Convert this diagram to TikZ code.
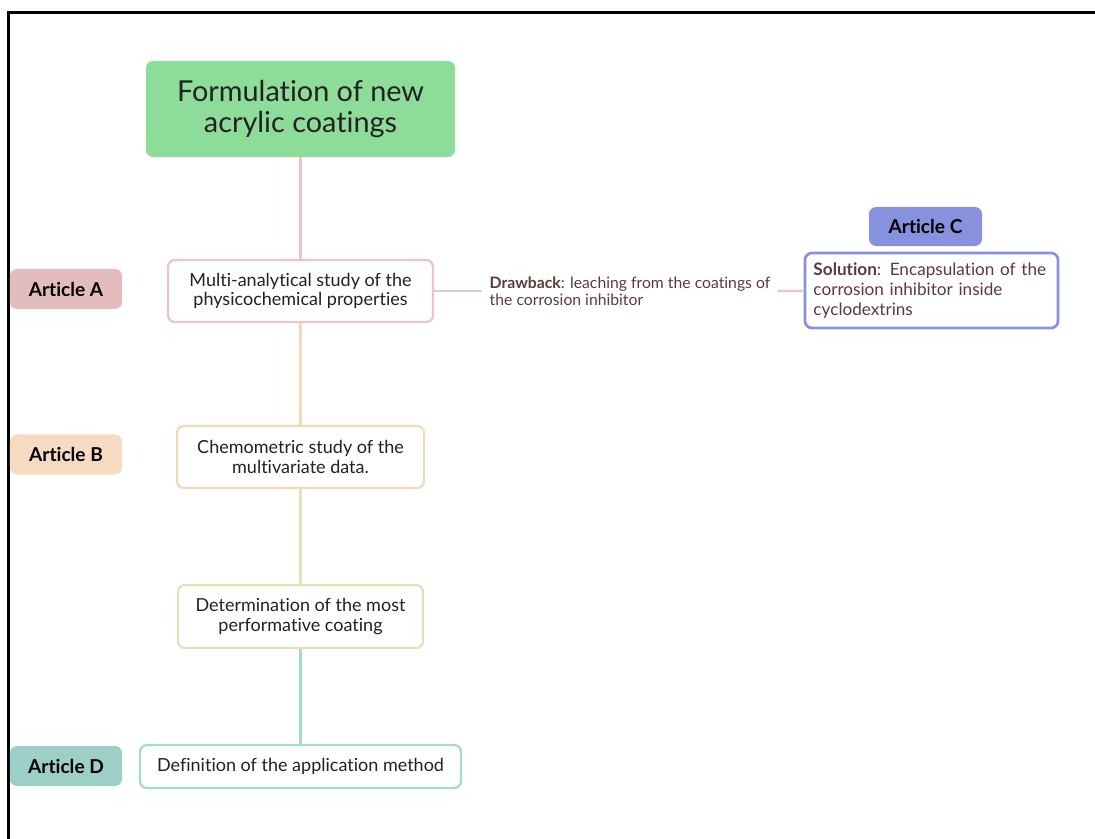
\documentclass[tikz,border=0pt]{standalone}
\usepackage{fontspec}
\setmainfont{Lato}[Ligatures=NoCommon]
\usetikzlibrary{positioning}
\definecolor{titlegreen}{HTML}{8EDC9A}
\definecolor{pinkA}{HTML}{E6C6C6}
\definecolor{pinkAfill}{HTML}{E3BDBD}
\definecolor{peachB}{HTML}{F5D8B8}
\definecolor{peachBfill}{HTML}{F6DBC1}
\definecolor{limeC}{HTML}{DDE6BA}
\definecolor{tealD}{HTML}{A6D9D0}
\definecolor{tealDfill}{HTML}{9CCFC6}
\definecolor{blueC}{HTML}{8891DD}
\definecolor{brownTxt}{HTML}{5C3B3B}
\definecolor{darkTxt}{HTML}{222222}
\tikzset{
  step box/.style={draw, line width=1.6pt, fill=white, rounded corners=5pt, align=center, font=\fontsize{12.8}{14}\selectfont, text=darkTxt, inner sep=2pt},
  art/.style={rounded corners=5pt, minimum width=2.8cm, minimum height=1.0cm, font=\fontsize{13.6}{15}\selectfont\bfseries, text=black, inner sep=0pt},
  link/.style={line width=1.7pt}
}
\begin{document}
\begin{tikzpicture}[x=0.025cm, y=-0.025cm]
		\useasboundingbox (0,0) rectangle (1095,839);
		\draw[line width=1.5pt] (8.5,839) -- (8.5,12.5) -- (1095,12.5);
		% main branch
		\node[rounded corners=5pt, fill=titlegreen, minimum width=7.725cm, minimum height=2.4cm, align=center, font=\fontsize{20.5}{22}\selectfont, text=darkTxt] (form) at (300.5,109) {Formulation of new\\acrylic coatings};
		\node[step box, draw=pinkA, minimum width=6.625cm, minimum height=1.55cm] (multi) at (300.5,291) {Multi-analytical study of the\\physicochemical properties};
		\node[step box, draw=peachB, minimum width=6.175cm, minimum height=1.55cm] (chemo) at (300.5,457) {Chemometric study of the\\multivariate data.};
		\node[step box, draw=limeC, minimum width=6.125cm, minimum height=1.575cm] (best) at (300.5,616.5) {Determination of the most\\performative coating};
		\node[step box, draw=tealD, minimum width=8.025cm, minimum height=1.075cm] (method) at (300.5,766.5) {Definition of the application method};
		% side branch
		\node[align=left, text=brownTxt, font=\fontsize{11.2}{12.2}\selectfont, inner sep=1pt] (drawb) at (630,291) {\textbf{Drawback}: leaching from the coatings of\\the corrosion inhibitor};
		\node[draw=blueC, line width=1.9pt, fill=white, rounded corners=5pt, minimum width=6.325cm, minimum height=1.875cm, text width=5.9cm, align=left, text=brownTxt, font=\fontsize{12.2}{14.2}\selectfont] (sol) at (931.5,290.5) {\textbf{Solution}: Encapsulation of the\\corrosion inhibitor inside\\cyclodextrins};
		% articles
		\node[art, fill=pinkAfill] (artA) at (66,289) {Article A};
		\node[art, fill=peachBfill] (artB) at (66,454.5) {Article B};
		\node[art, fill=blueC, minimum width=2.825cm, minimum height=0.975cm] (artC) at (925.5,226.5) {Article C};
		\node[art, fill=tealDfill] (artD) at (66,766) {Article D};
		% connectors
		\draw[link, pinkA] (form) -- (multi);
		\draw[link, peachB] (multi) -- (chemo);
		\draw[link, limeC] (chemo) -- (best);
		\draw[link, tealD] (best) -- (method);
		\draw[link, pinkA] (multi) -- ([xshift=-4pt]drawb.west);
		\draw[link, pinkA] ([xshift=4pt]drawb.east) -- (sol);
	\end{tikzpicture}
\end{document}
